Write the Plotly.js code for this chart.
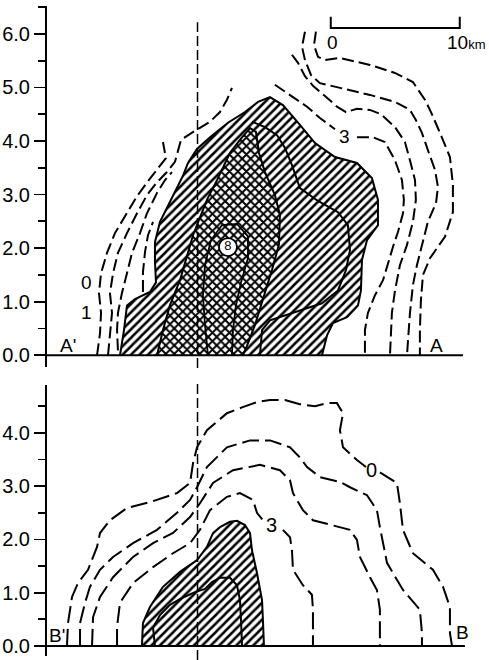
<!DOCTYPE html>
<html>
<head>
<meta charset="utf-8">
<script src="https://cdn.plot.ly/plotly-3.0.1.min.js"></script>
<style>html,body{margin:0;padding:0;background:#fff;}#chart{width:489px;height:660px;}</style>
</head>
<body>
<div id="chart"></div>
<script>
// ---------------- DATA (km) ----------------
// Section A'-A (top panel): dashed contours, left group
const aL0x = [3.88,4.11,4.19,4.03,4.19,4.65,5.27,6.20,6.98,7.83,8.60,9.22,8.99];
const aL0y = [0,0.41,0.79,1.16,1.53,1.91,2.28,2.65,2.97,3.25,3.48,3.68,3.98];
const aL1x = [4.73,4.88,5.04,4.88,5.12,5.50,6.20,6.98,7.75,8.53,9.30,9.92,10.16,10.39,11.47,12.64,13.41,13.95,14.34];
const aL1y = [0,0.41,0.79,1.16,1.53,1.91,2.28,2.65,2.99,3.23,3.42,3.61,3.83,4.02,4.19,4.36,4.54,4.77,4.99];
const aL2x = [5.50,5.43,5.50,5.81,6.20,6.59,7.21,7.75,8.53,9.15,9.69];
const aL2y = [0.09,0.47,0.79,1.16,1.53,1.91,2.28,2.65,3.03,3.27,3.42];
const aL3x = [7.44,7.44,7.60,7.83,8.22];
const aL3y = [1.18,1.55,1.93,2.24,2.49];
// right group
const aR0x = [20.85,20.70,21.01,21.55,22.71,25.04,26.98,28.37,29.30,29.77,30.47,31.24,31.47,31.47,30.85,29.69,29.15,28.99,28.91,28.91];
const aR0y = [6.04,5.79,5.57,5.51,5.55,5.42,5.27,5.10,4.77,4.54,4.15,3.70,3.18,2.67,2.21,1.81,1.50,1.03,0.47,0];
const aR1x = [20.0,19.77,20.0,20.47,21.16,22.71,25.04,26.98,28.14,28.60,29.07,29.53,30.08,30.31,30.16,29.53,29.15,28.68,28.37,28.14,27.91];
const aR1y = [6.04,5.76,5.51,5.23,5.08,4.99,4.86,4.73,4.58,4.39,4.15,3.83,3.46,3.14,2.84,2.49,2.15,1.68,1.31,0.79,0];
const aR2x = [18.99,19.46,20.0,20.62,21.55,22.48,23.18,24.03,25.04,25.89,26.98,27.75,28.14,28.53,28.60,28.37,27.91,27.36,26.98,26.74,26.59];
const aR2y = [5.61,5.46,5.21,5.03,4.84,4.64,4.54,4.60,4.58,4.50,4.26,3.98,3.64,3.27,2.90,2.49,2.06,1.68,1.21,0.79,0];
const aR3x = [17.67,18.84,20.16,21.16,22.33,null,24.03,25.27,26.20,26.98,27.52,27.67,27.60,27.21,26.82,26.05,25.43,24.88,24.65,24.65];
const aR3y = [5.05,4.86,4.64,4.43,4.22,null,4.07,4.07,3.98,3.64,3.27,2.90,2.65,2.30,2.02,1.40,1.12,0.79,0.47,0];
// hatched area (solid outline)
const aHatchX = [5.66,5.97,6.20,6.82,7.98,8.45,8.37,8.37,8.76,9.38,10.0,10.54,10.93,11.63,12.64,14.03,15.35,16.36,17.29,18.29,19.61,20.78,22.33,24.03,25.19,25.66,25.66,24.81,24.42,24.34,24.11,23.26,22.17,21.71,21.32];
const aHatchY = [0,0.47,0.93,1.05,1.18,1.36,1.74,2.11,2.49,2.80,3.08,3.35,3.59,3.85,4.07,4.34,4.54,4.73,4.82,4.67,4.30,3.96,3.70,3.59,3.31,2.90,2.43,2.15,1.78,1.21,0.93,0.71,0.60,0.37,0];
// cross-hatched area
const aCrossX = [8.53,8.99,9.53,10.31,11.32,12.40,13.18,14.19,14.96,15.74,16.20,16.43,16.90,17.67,18.06,17.98,17.44,16.82,16.12,15.43,15.19];
const aCrossY = [0,0.47,0.93,1.40,2.24,2.90,3.27,3.78,4.02,4.24,4.17,3.78,3.42,2.99,2.62,2.06,1.59,1.12,0.56,0.13,0];
// inner solid contour inside hatched area
const aInnerX = [15.89,16.90,17.83,18.45,18.99,19.61,21.01,22.56,23.33,23.49,23.18,22.56,21.32,19.22,17.29,16.67,16.51];
const aInnerY = [4.36,4.26,4.11,3.87,3.55,3.12,2.88,2.67,2.43,1.96,1.59,1.21,0.97,0.80,0.65,0.47,0];
// core contour inside cross-hatched area
const aCoreX = [12.48,12.25,12.09,12.25,12.71,13.57,14.73,15.58,15.58,15.04,14.65,14.42,14.34];
const aCoreY = [0,0.56,1.12,1.68,2.15,2.43,2.45,2.22,1.81,1.36,0.93,0.47,0];
const aMaxX = [14.03];
const aMaxY = [2.02];
const aLabelText = ['0','1','3'];
const aLabelX = [3.10,3.10,23.10];
const aLabelY = [1.35,0.80,4.09];

// Section B'-B (bottom panel)
const bC0x = [1.55,1.63,1.94,2.40,3.18,3.88,4.11,4.88,6.20,7.98,10.08,11.09,11.32,11.63,12.40,13.95,15.12,16.28,17.29,18.45,19.61,20.78,21.71,22.48,22.95,22.71,22.95,24.03,24.73,null,25.81,27.13,27.36,27.60,28.37,29.92,30.70,31.24,31.24,31.40];
const bC0y = [0,0.43,0.92,1.18,1.43,1.86,2.12,2.36,2.59,2.70,2.87,3.06,3.43,3.73,4.05,4.37,4.48,4.58,4.62,4.62,4.54,4.50,4.56,4.56,4.37,4.05,3.73,3.49,3.36,null,3.26,3.06,2.68,2.18,1.74,1.43,1.11,0.73,0.24,0];
const bC1x = [2.56,2.56,2.95,3.33,4.11,5.12,6.67,8.53,10.08,11.09,11.63,12.40,13.95,15.74,17.29,18.84,19.61,20.16,21.16,22.71,23.49,24.81,25.58,25.81,26.36,27.60,28.91,29.07,29.07];
const bC1y = [0,0.43,0.81,1.11,1.43,1.67,1.93,2.18,2.50,2.74,2.98,3.36,3.73,3.86,3.86,3.73,3.54,3.36,3.17,3.08,2.98,2.83,2.55,2.23,1.56,1.05,0.68,0.24,0];
const bC2x = [3.49,3.57,4.11,5.12,6.67,8.22,9.77,11.09,11.86,12.87,14.42,15.74,16.51,18.06,18.84,19.07,19.84,20.62,22.17,23.49,24.03,24.26,25.04,25.58,25.81,25.81];
const bC2y = [0,0.54,0.92,1.29,1.67,1.93,2.12,2.42,2.68,3.06,3.30,3.36,3.40,3.30,3.11,2.87,2.55,2.36,2.27,2.18,1.99,1.67,1.29,1.05,0.68,0];
const bC3x = [5.43,5.43,5.66,6.67,8.22,9.77,11.09,11.86,12.64,13.95,14.96,15.97,16.28,16.74,null,18.29,18.84,18.99,19.07,19.84,20.54,20.62,20.62];
const bC3y = [0,0.36,0.81,1.18,1.48,1.74,1.93,2.18,2.55,2.80,2.87,2.74,2.50,2.36,null,2.18,2.04,1.80,1.43,1.14,0.96,0.68,0];
const bHatchX = [7.36,7.44,7.98,8.99,10.31,11.63,12.40,12.87,13.41,14.19,14.73,15.35,15.74,15.89,16.28,16.67,16.74,16.82];
const bHatchY = [0,0.43,0.73,1.11,1.39,1.61,1.86,2.12,2.23,2.33,2.35,2.27,2.12,1.80,1.37,0.86,0.49,0];
const bInnerX = [8.37,8.22,8.76,9.53,10.47,11.47,12.25,12.79,13.41,14.19,14.73,14.96,15.04,15.12];
const bInnerY = [0,0.34,0.58,0.77,0.90,1.01,1.07,1.20,1.28,1.28,1.14,0.86,0.49,0];
const bLabelText = ['0','3'];
const bLabelX = [25.19,17.44];
const bLabelY = [3.30,2.27];

// section line position and scale bar (km)
const sectionX = 11.67;
const scaleBarX = [22,22,32,32];
const scaleBarY = [6.32,6.11,6.11,6.32];

// ---------------- DRAWING ----------------
const INK = '#000';
const FONT = 'Liberation Sans, Arial, sans-serif';
function line(x, y, xa, ya, dash, w) {
  return {type:'scatter', mode:'lines', x:x, y:y, xaxis:xa, yaxis:ya,
    line:{color:INK, width:w||2, dash:dash||'solid'}, hoverinfo:'skip', connectgaps:false};
}
function area(x, y, xa, ya, shape, sol, sz) {
  return {type:'scatter', mode:'lines', x:x, y:y, xaxis:xa, yaxis:ya, fill:'toself',
    fillcolor:'white',
    fillpattern:{shape:shape, size:sz, solidity:sol, fgcolor:INK, bgcolor:'white', fillmode:'replace'},
    line:{color:INK, width:2}, hoverinfo:'skip'};
}
const dTop = '12px,5px';
const dBot = '17px,6px';
const traces = [
  area(aHatchX, aHatchY, 'x', 'y', '/', 0.42, 6),
  area(aCrossX, aCrossY, 'x', 'y', 'x', 0.55, 6),
  line(aInnerX, aInnerY, 'x', 'y'),
  line(aCoreX, aCoreY, 'x', 'y', 'solid', 1.8),
  line(aL0x, aL0y, 'x', 'y', dTop),
  line(aL1x, aL1y, 'x', 'y', dTop),
  line(aL2x, aL2y, 'x', 'y', dTop),
  line(aL3x, aL3y, 'x', 'y', dTop),
  line(aR0x, aR0y, 'x', 'y', dTop),
  line(aR1x, aR1y, 'x', 'y', dTop),
  line(aR2x, aR2y, 'x', 'y', dTop),
  line(aR3x, aR3y, 'x', 'y', dTop),
  {type:'scatter', mode:'markers+text', x:aMaxX, y:aMaxY, xaxis:'x', yaxis:'y',
    marker:{symbol:'circle', size:18, color:'white', line:{color:INK, width:1.8}},
    text:['8'], textposition:'middle center', textfont:{family:FONT, size:13, color:INK}, hoverinfo:'skip'},
  line(scaleBarX, scaleBarY, 'x', 'y', 'solid', 2),
  area(bHatchX, bHatchY, 'x2', 'y2', '/', 0.42, 6),
  line(bInnerX, bInnerY, 'x2', 'y2'),
  line(bC0x, bC0y, 'x2', 'y2', dBot),
  line(bC1x, bC1y, 'x2', 'y2', dBot),
  line(bC2x, bC2y, 'x2', 'y2', dBot),
  line(bC3x, bC3y, 'x2', 'y2', dBot)
];

const annotations = [];
function lab(text, x, y, xr, yr, size, xanchor) {
  annotations.push({text:text, x:x, y:y, xref:xr, yref:yr, showarrow:false,
    xanchor:xanchor||'center', yanchor:'middle', font:{family:FONT, size:size, color:INK}});
}
aLabelText.forEach((t,i)=>lab(t, aLabelX[i], aLabelY[i], 'x', 'y', 19));
bLabelText.forEach((t,i)=>lab(t, bLabelX[i], bLabelY[i], 'x2', 'y2', 20));
lab("A'", 1.63, 0.18, 'x', 'y', 19);
lab('A', 30.23, 0.19, 'x', 'y', 19);
lab("B'", 0.80, 0.19, 'x2', 'y2', 19);
lab('B', 32.2, 0.26, 'x2', 'y2', 19);
lab('km', -2.05, 6.36, 'x', 'y', 13);
lab('km', -2.05, 4.33, 'x2', 'y2', 13);
lab('0', 22.1, 5.83, 'x', 'y', 19);
lab('10<span style="font-size:13px">km</span>', 30.85, 5.83, 'x', 'y', 19, 'left');

const yBase = {showline:true, linewidth:2, linecolor:INK, ticks:'outside', ticklen:11, tickwidth:1.8,
  tickcolor:INK, dtick:1, tick0:0, tickformat:'.1f', showgrid:false, zeroline:false,
  tickfont:{family:FONT, size:20, color:INK},
  minor:{dtick:0.5, tick0:0, ticks:'outside', ticklen:7, tickwidth:1.8, tickcolor:INK, showgrid:false}};
const xBase = {range:[0,32.64], visible:false, showgrid:false, zeroline:false};

const layout = {
  width:489, height:660, paper_bgcolor:'white', plot_bgcolor:'white', showlegend:false,
  margin:{l:47, r:21, t:6, b:4},
  xaxis:Object.assign({}, xBase, {anchor:'y'}),
  xaxis2:Object.assign({}, xBase, {anchor:'y2'}),
  yaxis:Object.assign({}, yBase, {domain:[0.4446,1], range:[-0.22,6.52], anchor:'x'}),
  yaxis2:Object.assign({}, yBase, {domain:[0,0.4169], range:[-0.19,4.9], anchor:'x2'}),
  annotations:annotations,
  shapes:[
    {type:'line', xref:'x', yref:'y', x0:0, x1:32.25, y0:0, y1:0, line:{color:INK, width:2}},
    {type:'line', xref:'x2', yref:'y2', x0:0, x1:32.4, y0:0, y1:0, line:{color:INK, width:2}},
    {type:'line', xref:'x', yref:'paper', x0:sectionX, x1:sectionX, y0:0.443, y1:0.975, line:{color:INK, width:1.5, dash:'10px,4px'}},
    {type:'line', xref:'x2', yref:'paper', x0:sectionX, x1:sectionX, y0:-0.006, y1:0.4246, line:{color:INK, width:1.5, dash:'10px,4px'}}
  ]
};
Plotly.newPlot('chart', traces, layout, {staticPlot:true, displayModeBar:false});
</script>
</body>
</html>
